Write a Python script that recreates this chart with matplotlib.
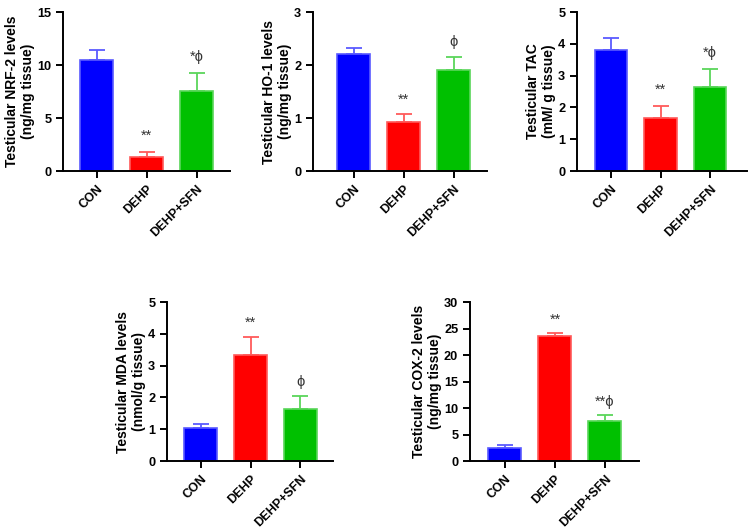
import matplotlib
matplotlib.use('Agg')
import matplotlib.pyplot as plt
import matplotlib.transforms as mtransforms

plt.rcParams['font.family'] = ['Liberation Sans', 'DejaVu Sans']

# Groups and colours
groups = ['CON', 'DEHP', 'DEHP+SFN']
fill_colors = ['#0000FF', '#FF0000', '#00C000']
edge_colors = ['#5A5AFF', '#FF5A5A', '#5AD65A']

# Panel data: means, upper SD, significance marks
nrf2_mean = [10.5, 1.3, 7.55]
nrf2_err = [0.9, 0.5, 1.7]
nrf2_marks = ['', '**', '*ϕ']

ho1_mean = [2.21, 0.92, 1.91]
ho1_err = [0.12, 0.15, 0.25]
ho1_marks = ['', '**', 'ϕ']

tac_mean = [3.82, 1.67, 2.65]
tac_err = [0.36, 0.39, 0.55]
tac_marks = ['', '**', '*ϕ']

mda_mean = [1.04, 3.33, 1.65]
mda_err = [0.13, 0.57, 0.38]
mda_marks = ['', '**', 'ϕ']

cox2_mean = [2.5, 23.5, 7.5]
cox2_err = [0.5, 0.7, 1.1]
cox2_marks = ['', '**', '**ϕ']

panels = [
    # (rect, ymax, step, label, means, errs, marks, mark offset, xlim)
    ([0.0839, 0.6767, 0.2224, 0.3006], 15, 5, 'Testicular NRF-2 levels\n(ng/mg tissue)',
     nrf2_mean, nrf2_err, nrf2_marks, 1.5, (-0.67, 2.67)),
    ([0.4168, 0.6767, 0.2317, 0.3006], 3, 1, 'Testicular HO-1 levels\n(ng/mg tissue)',
     ho1_mean, ho1_err, ho1_marks, 0.27, (-0.81, 2.67)),
    ([0.7683, 0.6767, 0.2264, 0.3006], 5, 1, 'Testicular TAC\n(mM/ g tissue)',
     tac_mean, tac_err, tac_marks, 0.5, (-0.69, 2.75)),
    ([0.2224, 0.1285, 0.2210, 0.3006], 5, 1, 'Testicular MDA levels\n(nmol/g tissue)',
     mda_mean, mda_err, mda_marks, 0.45, (-0.67, 2.65)),
    ([0.6258, 0.1285, 0.2250, 0.3006], 30, 5, 'Testicular COX-2 levels\n(ng/mg tissue)',
     cox2_mean, cox2_err, cox2_marks, 2.5, (-0.70, 2.68)),
]

fig = plt.figure(figsize=(7.51, 5.29), dpi=100)
# shift for rotated x labels (right end a bit right of / below the tick)
label_shift = mtransforms.ScaledTranslation(4 / 72, -3 / 72, fig.dpi_scale_trans)

for rect, ymax, step, label, means, errs, marks, off, xlim in panels:
    ax = fig.add_axes(rect)
    x = list(range(len(groups)))
    ax.bar(x, means, width=0.66, color=fill_colors, edgecolor=edge_colors, linewidth=1.2, zorder=2)
    for i in x:
        ax.errorbar(i, means[i], yerr=[[0], [errs[i]]], color=edge_colors[i],
                    capsize=6, elinewidth=1.3, capthick=1.3, zorder=1)
        if marks[i]:
            ax.text(i, means[i] + errs[i] + off, marks[i], ha='center', va='center',
                    fontsize=10.5, color='#333333')
    ax.set_xlim(*xlim)
    ax.set_ylim(0, ymax)
    ax.set_yticks(range(0, ymax + 1, step))
    ax.set_xticks(x)
    ax.set_xticklabels(groups, rotation=45, ha='right', va='top', rotation_mode='anchor',
                       fontsize=9, fontweight='bold')
    for t in ax.get_xticklabels():
        t.set_transform(t.get_transform() + label_shift)
    for t in ax.get_yticklabels():
        t.set_fontweight('bold')
        t.set_fontsize(9.2)
    ax.set_ylabel(label, fontsize=10, fontweight='bold', linespacing=1.2, labelpad=1.5)
    ax.spines['top'].set_visible(False)
    ax.spines['right'].set_visible(False)
    ax.spines['left'].set_linewidth(1.4)
    ax.spines['bottom'].set_linewidth(1.4)
    ax.tick_params(width=1.4, length=5)

fig.savefig('out.png', dpi=100)
